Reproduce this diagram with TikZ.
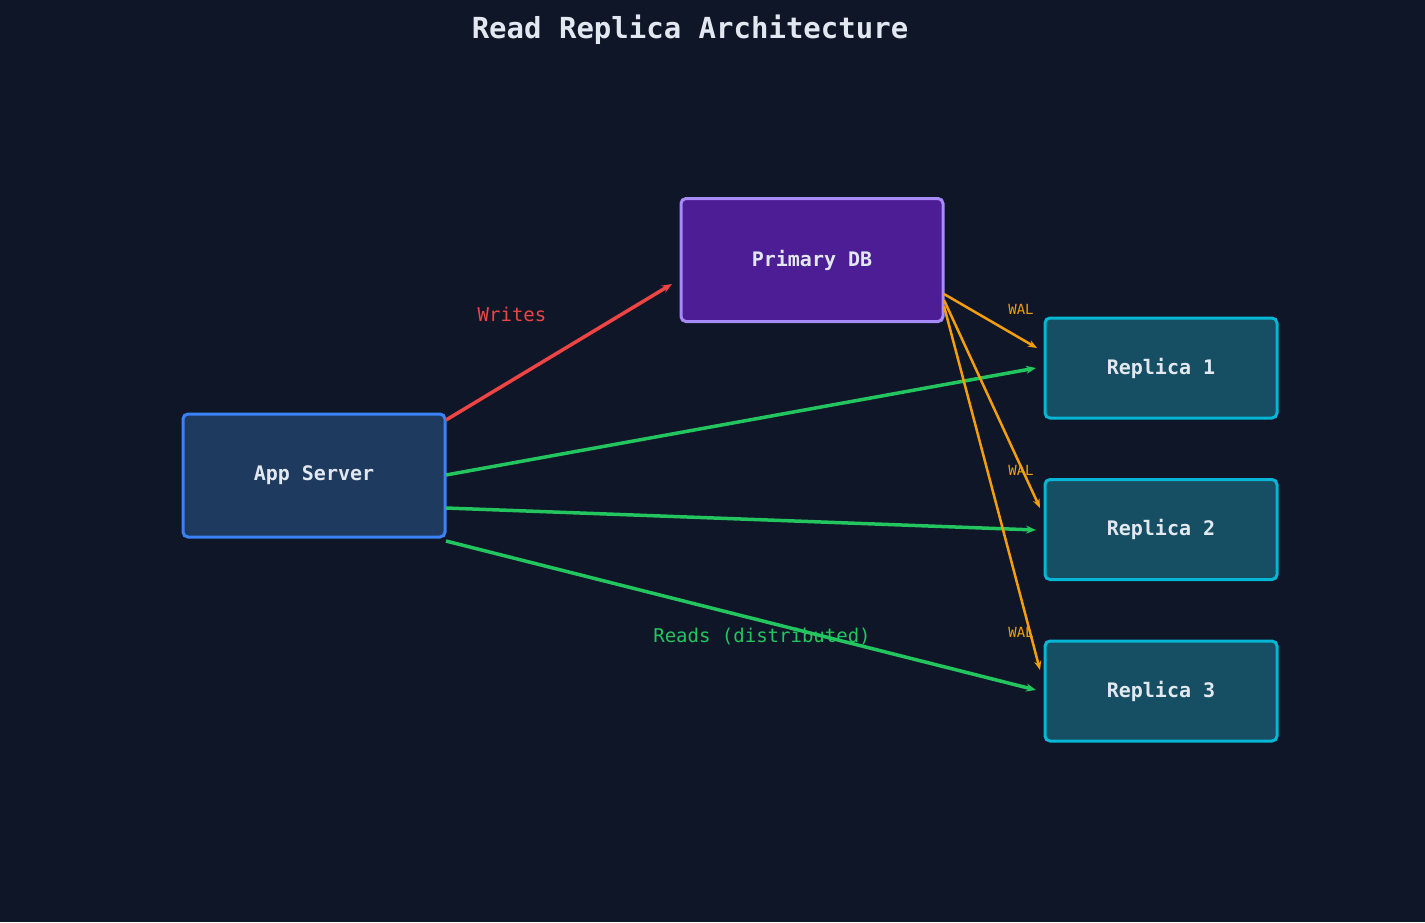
\documentclass[tikz,border=0pt]{standalone}
\usepackage{fontspec}
\setmonofont{DejaVu Sans Mono}
\usetikzlibrary{arrows.meta}
\definecolor{bg}{HTML}{0E1628}
\definecolor{txt}{HTML}{E2E8F0}
\definecolor{appf}{HTML}{1F3A5F}\definecolor{appb}{HTML}{3B82F6}
\definecolor{prif}{HTML}{4C1D95}\definecolor{prib}{HTML}{A78BFA}
\definecolor{repf}{HTML}{164E63}\definecolor{repb}{HTML}{06B6D4}
\definecolor{wr}{HTML}{EF4444}\definecolor{rd}{HTML}{22C55E}\definecolor{wal}{HTML}{F59E0B}
\begin{document}
\begin{tikzpicture}[x=1pt,y=-1pt,font=\ttfamily,
 box/.style={draw,line width=3pt,rounded corners=5pt,text=txt,font=\ttfamily\bfseries\fontsize{20}{24}\selectfont,inner sep=0pt},
 big/.style={box,minimum width=262pt,minimum height=123pt},
 rep/.style={box,fill=repf,draw=repb,minimum width=232pt,minimum height=100pt},
 ar/.style={-{Stealth[length=10pt,width=8pt]},line width=3.5pt},
 wl/.style={-{Stealth[length=9pt,width=7pt]},line width=2.5pt,draw=wal}]
\fill[bg] (0,0) rectangle (1425,922);
\node[text=txt,font=\ttfamily\bfseries\fontsize{29}{34}\selectfont] (title) at (690,30) {Read Replica Architecture};
\node[big,fill=appf,draw=appb] (app) at (314,475.5) {App Server};
\node[big,fill=prif,draw=prib] (pri) at (812,260) {Primary DB};
\node[rep] (r1) at (1161,368) {Replica 1};
\node[rep] (r2) at (1161,529.5) {Replica 2};
\node[rep] (r3) at (1161,691) {Replica 3};
\coordinate (a1) at (446,420);\coordinate (a2) at (446,475);\coordinate (a3) at (446,508);\coordinate (a4) at (446,541);
\coordinate (w) at (672,284);
\coordinate (g1) at (1036,368);\coordinate (g2) at (1036,530);\coordinate (g3) at (1036,690);
\coordinate (p1) at (944,294);\coordinate (p2) at (944,300);\coordinate (p3) at (944,306);
\coordinate (o1) at (1037,348);\coordinate (o2) at (1040,508);\coordinate (o3) at (1040,670);
\draw[ar,wr] (a1) -- (w);
\draw[ar,rd] (a2) -- (g1);
\draw[ar,rd] (a3) -- (g2);
\draw[ar,rd] (a4) -- (g3);
\draw[wl] (p1) -- (o1);
\draw[wl] (p2) -- (o2);
\draw[wl] (p3) -- (o3);
\node[text=wr,font=\ttfamily\fontsize{19}{22}\selectfont] (lw) at (512,314) {Writes};
\node[text=rd,font=\ttfamily\fontsize{19}{22}\selectfont] (lr) at (762,637) {Reads (distributed)};
\foreach \y/\n in {309/1,470/2,632/3}
  \node[text=wal,font=\ttfamily\fontsize{14}{16}\selectfont] (wal\n) at (1021,\y) {WAL};
\end{tikzpicture}
\end{document}
